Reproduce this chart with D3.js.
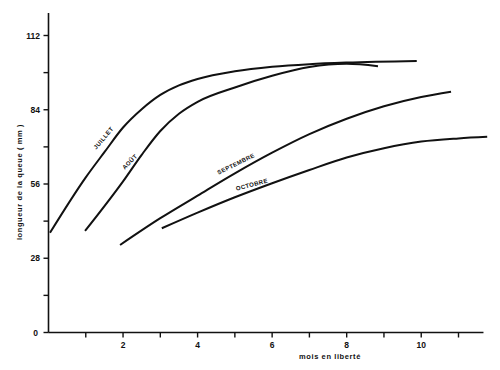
<!DOCTYPE html>
<html>
<head>
<meta charset="utf-8">
<script src="https://cdn.jsdelivr.net/npm/d3@7"></script>
<style>
  body { margin: 0; background: #fff; }
  text { font-family: "Liberation Sans", Arial, sans-serif; font-weight: bold; fill: #111; }
</style>
</head>
<body>
<script>
// mois en liberte / longueur de la queue (mm)
var juillet = [[0.04, 37.6], [1.0, 58.5], [1.5, 68], [2.0, 77.3], [2.5, 84.2], [3.0, 89.6],
               [3.5, 93.2], [4.0, 95.6], [5.0, 98.5], [6.0, 100.2], [7.0, 101.2], [8.0, 101.8],
               [9.88, 102.4]]
var aout = [[0.98, 38.3], [2.0, 57], [2.5, 67], [3.0, 76], [3.5, 82.5], [4.0, 87],
            [5.0, 92.4], [6.0, 96.8], [7.0, 100.1], [8.0, 101.3], [8.84, 100.4]]
var septembre = [[1.92, 33], [3.0, 43.1], [4.0, 51.6], [5.0, 60], [6.0, 67.8], [7.0, 74.8],
                 [8.0, 80.6], [9.0, 85.3], [10.0, 88.8], [10.8, 90.8]]
var octobre = [[3.04, 39.3], [4.0, 45.2], [5.0, 51], [6.0, 56.3], [7.0, 61.3], [8.0, 66],
               [9.0, 69.5], [10.0, 72], [11.0, 73.2], [11.77, 73.8]]

var series = [
  {name: "JUILLET", pts: juillet, lab: [107, 141, -50]},
  {name: "AOÛT", pts: aout, lab: [133, 165, -45]},
  {name: "SEPTEMBRE", pts: septembre, lab: [238, 168, -26]},
  {name: "OCTOBRE", pts: octobre, lab: [253, 189, -15]}
]

var yTicks = [0, 28, 56, 84, 112]
var yMinor = [14, 42, 70, 98]
var xTicks = [2, 4, 6, 8, 10]
var xMinor = [1, 3, 5, 7, 9, 11]

var W = 500, H = 370
var x = d3.scaleLinear().domain([0, 11]).range([48.5, 458.5])
var y = d3.scaleLinear().domain([0, 112]).range([332.5, 35.5])

var svg = d3.select("body").append("svg").attr("width", W).attr("height", H)

// axes lines
svg.append("line").attr("x1", x(0)).attr("x2", x(0)).attr("y1", 13).attr("y2", y(0))
   .attr("stroke", "#111").attr("stroke-width", 1.6)
svg.append("line").attr("x1", x(0)).attr("x2", x(11.67)).attr("y1", y(0)).attr("y2", y(0))
   .attr("stroke", "#111").attr("stroke-width", 1.6)

// y ticks
svg.selectAll(".yt").data(yTicks.concat(yMinor)).enter().append("line")
   .attr("x1", x(0) - 5).attr("x2", x(0)).attr("y1", d => y(d)).attr("y2", d => y(d))
   .attr("stroke", "#111").attr("stroke-width", 1.4)
svg.selectAll(".yl").data(yTicks).enter().append("text")
   .attr("x", d => d == 0 ? 38 : 40).attr("y", d => y(d) + 3)
   .attr("text-anchor", "end").attr("font-size", 8.5).text(d => d)

// x ticks
svg.selectAll(".xt").data(xTicks.concat(xMinor)).enter().append("line")
   .attr("x1", d => x(d)).attr("x2", d => x(d)).attr("y1", y(0)).attr("y2", y(0) + 5)
   .attr("stroke", "#111").attr("stroke-width", 1.4)
svg.selectAll(".xl").data(xTicks).enter().append("text")
   .attr("x", d => x(d)).attr("y", 348).attr("text-anchor", "middle")
   .attr("font-size", 8.5).text(d => d)

// titles
svg.append("text").attr("x", 330).attr("y", 359).attr("text-anchor", "middle")
   .attr("font-size", 7.5).attr("letter-spacing", 0.6).text("mois en liberté")
svg.append("text").attr("transform", "translate(22,182) rotate(-90)")
   .attr("text-anchor", "middle").attr("font-size", 7.5).attr("letter-spacing", 0.6)
   .text("longueur de la queue ( mm )")

// curves
var line = d3.line().x(d => x(d[0])).y(d => y(d[1])).curve(d3.curveMonotoneX)
svg.selectAll(".curve").data(series).enter().append("path")
   .attr("d", d => line(d.pts)).attr("fill", "none")
   .attr("stroke", "#111").attr("stroke-width", 2)

// curve labels
svg.selectAll(".lab").data(series).enter().append("text")
   .attr("transform", d => "translate(" + d.lab[0] + "," + d.lab[1] + ") rotate(" + d.lab[2] + ")")
   .attr("text-anchor", "middle").attr("dy", -2.5)
   .attr("font-size", 6).attr("letter-spacing", 0.4).text(d => d.name)
</script>
</body>
</html>
